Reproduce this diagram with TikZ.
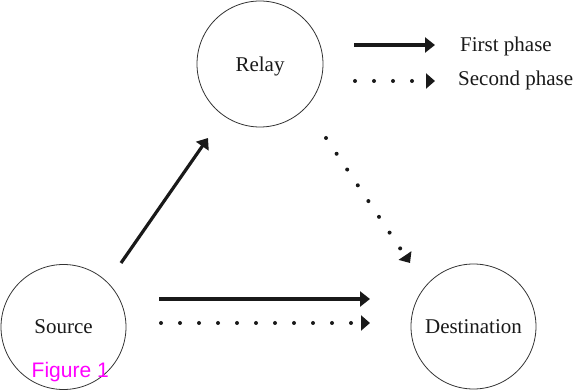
\documentclass[tikz,border=0pt]{standalone}
\usepackage{fontspec}
\setmainfont{Liberation Serif}
\newfontfamily\figfont{Liberation Sans}
\usetikzlibrary{arrows.meta,calc}
\definecolor{figmagenta}{RGB}{255,0,255}
\definecolor{ink}{RGB}{25,25,25}
\tikzset{
  station/.style={circle, draw=black!80, line width=0.8pt, minimum size=125pt, inner sep=0pt,
    font=\fontsize{21}{25}\selectfont, text=ink, text depth=0pt},
  solidarrow/.style={draw=ink, line width=3.2pt, -{Triangle[length=10pt,width=15pt]}},
  dotarrow/.style={draw=ink, line width=4pt, line cap=round, dash pattern=on 0pt off 19pt,
    -{Triangle[length=9pt,width=15pt,line cap=butt]}},
  legendtext/.style={font=\fontsize{21}{25}\selectfont, text=ink, inner sep=0pt, anchor=base west},
}
\begin{document}
\begin{tikzpicture}[x=1pt,y=-1pt]
\useasboundingbox (0,0) rectangle (574,390);
\node[station, minimum size=126pt] (relay) at (260,64) {Relay};
\node[station] (src) at (63.5,327) {Source};
\node[station] (dst) at (473.5,326.5) {Destination};
% first phase
\draw[solidarrow] ($(src)+(57.5,-64)$) -- ($(relay)+(-52,74)$);
\draw[solidarrow] ($(src)+(95.5,-28)$) -- ($(dst)+(-103.5,-27.5)$);
% second phase
\draw[dotarrow] ($(src)+(97.5,-4)$) -- ($(dst)+(-103.5,-3.5)$);
\draw[dotarrow] ($(relay)+(66,74)$) -- ($(dst)+(-63.5,-63.5)$);
% legend
\coordinate (l1a) at (354,45);
\coordinate (l1b) at (435,45);
\coordinate (l2a) at (355,81);
\coordinate (l2b) at (435,81);
\draw[solidarrow] (l1a) -- (l1b);
\draw[dotarrow] (l2a) -- (l2b);
\node[legendtext] (lg1) at (460,52) {First phase};
\node[legendtext] (lg2) at (458,86) {Second phase};
\node[font=\figfont\fontsize{21}{24}\selectfont, text=figmagenta, inner sep=0pt, anchor=base west] (fig) at (31.5,378) {Figure 1};
\end{tikzpicture}
\end{document}
